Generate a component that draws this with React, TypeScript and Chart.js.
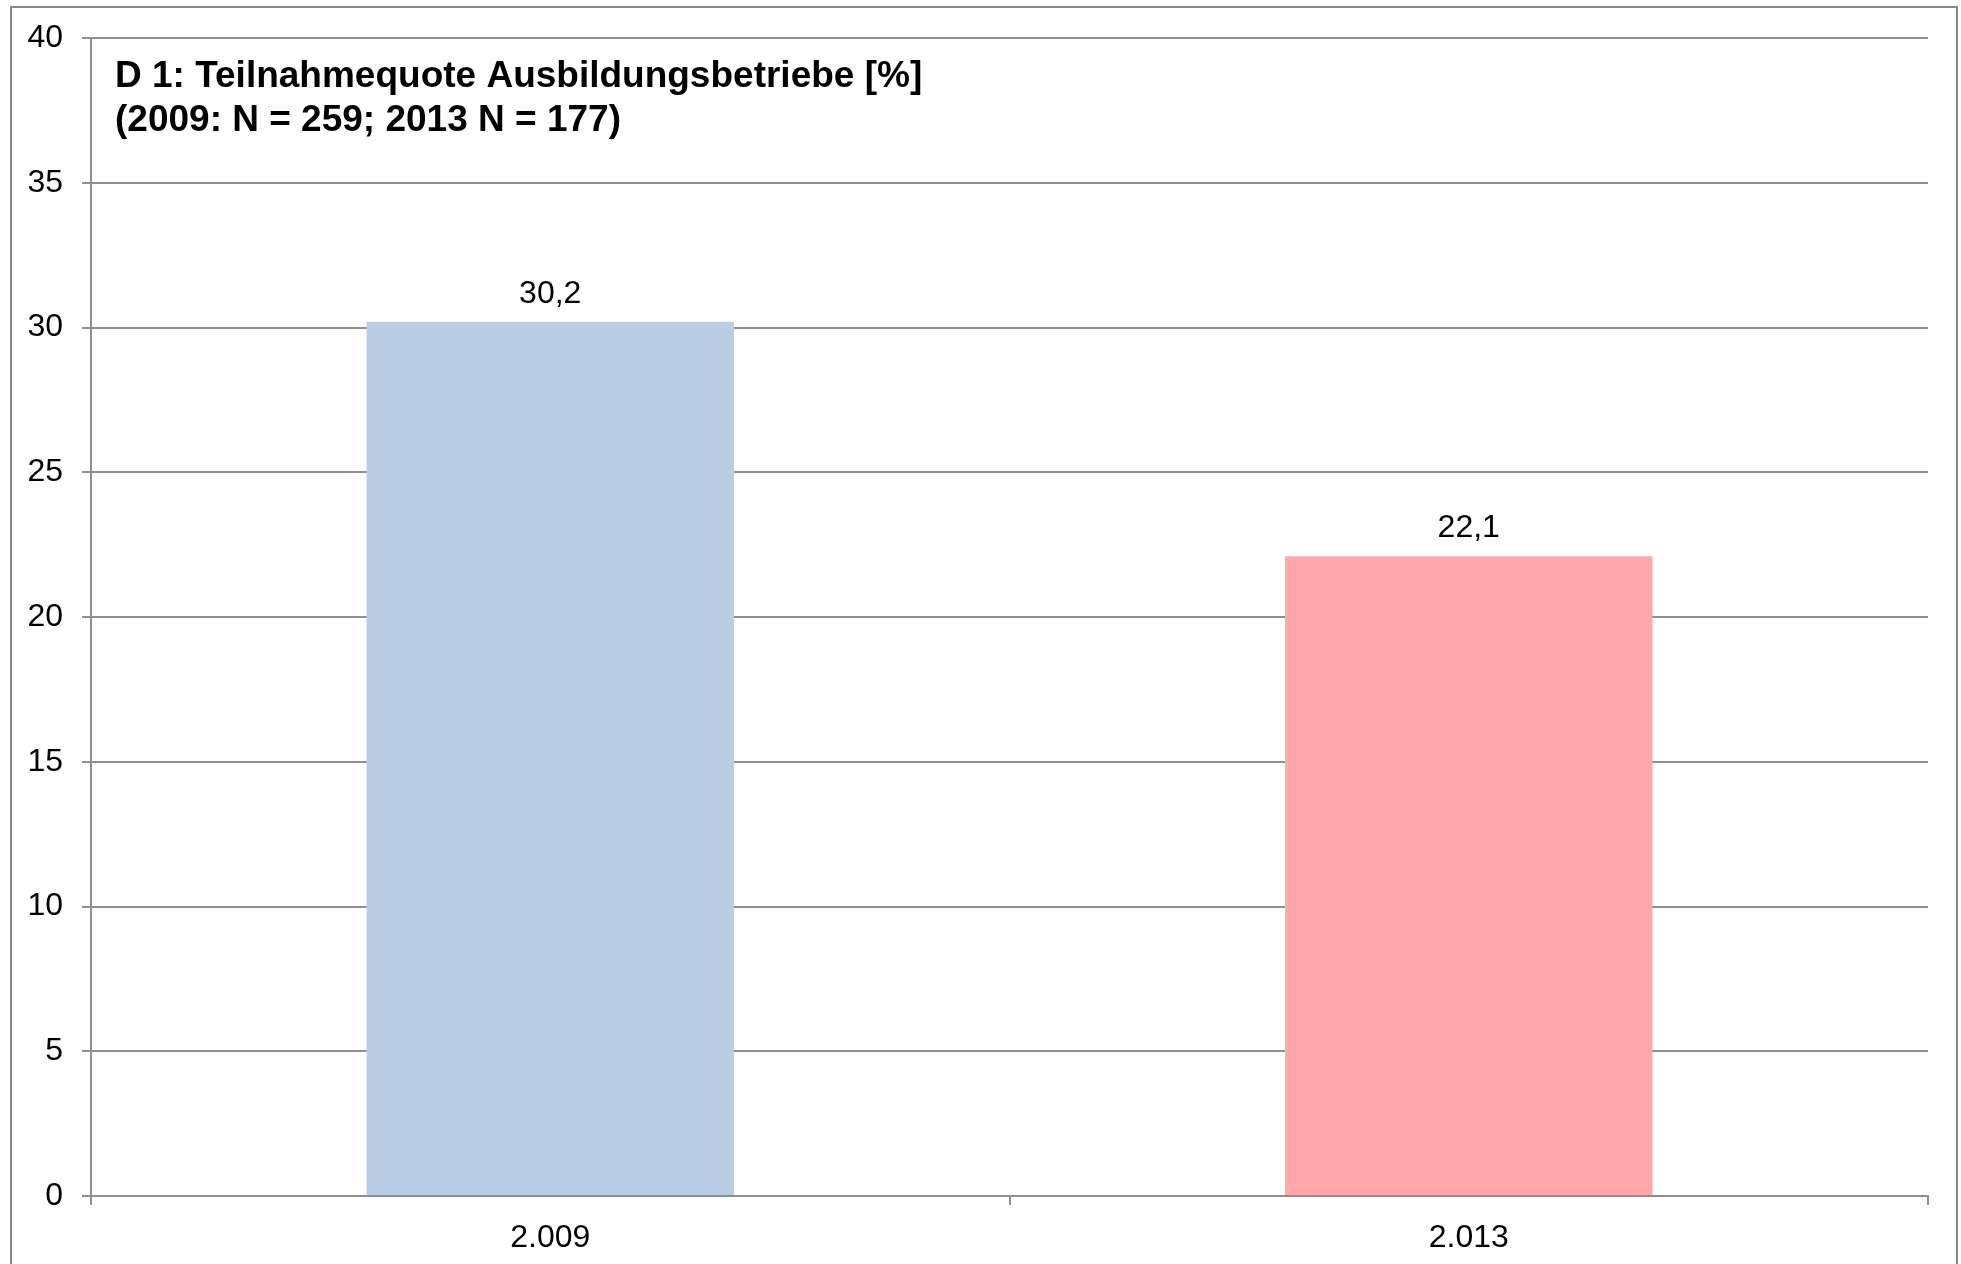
import { useEffect, useRef } from "react";
import { Chart, registerables } from "chart.js";

Chart.register(...registerables);

const categories = ["2.009", "2.013"];
const values = [30.2, 22.1];
const valueLabels = ["30,2", "22,1"];
const barColors = ["#B9CDE5", "#FFA7AA"];
const titleLines = [
  "D 1: Teilnahmequote Ausbildungsbetriebe [%]",
  "(2009: N = 259; 2013 N = 177)",
];
const yMin = 0;
const yMax = 40;
const yStep = 5;

const FONT = "'Liberation Sans', Arial, sans-serif";
const GRID = "#8f8f8f";

const framePlugin = {
  id: "frame",
  beforeDraw(chart: any) {
    const ctx = chart.ctx;
    ctx.save();
    ctx.fillStyle = "#ffffff";
    ctx.fillRect(0, 0, chart.width, chart.height);
    ctx.strokeStyle = "#898989";
    ctx.lineWidth = 2;
    ctx.strokeRect(11, 7, 1946, 1300);
    ctx.restore();
  },
};

const valueLabelPlugin = {
  id: "valueLabels",
  afterDatasetsDraw(chart: any) {
    const ctx = chart.ctx;
    const meta = chart.getDatasetMeta(0);
    ctx.save();
    ctx.fillStyle = "#000000";
    ctx.font = `32px ${FONT}`;
    ctx.textAlign = "center";
    ctx.textBaseline = "alphabetic";
    meta.data.forEach((bar: any, i: number) => {
      ctx.fillText(valueLabels[i], bar.x, bar.y - 19);
    });
    ctx.restore();
  },
};

const innerTitlePlugin = {
  id: "innerTitle",
  afterDraw(chart: any) {
    const ctx = chart.ctx;
    const area = chart.chartArea;
    ctx.save();
    ctx.fillStyle = "#000000";
    ctx.font = `bold 37px ${FONT}`;
    ctx.textAlign = "left";
    ctx.textBaseline = "alphabetic";
    titleLines.forEach((line, i) => {
      ctx.fillText(line, area.left + 24, area.top + 49 + i * 44);
    });
    ctx.restore();
  },
};

export default function App() {
  const ref = useRef<HTMLCanvasElement | null>(null);

  useEffect(() => {
    if (!ref.current) return;
    const chart = new Chart(ref.current, {
      type: "bar",
      data: {
        labels: categories,
        datasets: [
          {
            data: values,
            backgroundColor: barColors,
            borderWidth: 0,
            barPercentage: 0.4,
            categoryPercentage: 1,
          },
        ],
      },
      options: {
        responsive: false,
        animation: false,
        layout: { padding: { left: 0, right: 33, top: 38, bottom: 0 } },
        plugins: {
          legend: { display: false },
          tooltip: { enabled: false },
          title: { display: false },
        },
        scales: {
          x: {
            afterFit(scale: any) {
              scale.height = 68;
            },
            grid: {
              display: true,
              drawOnChartArea: false,
              offset: true,
              tickLength: 9,
              color: GRID,
              lineWidth: 2,
            },
            border: { display: true, color: GRID, width: 2 },
            ticks: {
              color: "#000000",
              font: { family: FONT, size: 32 },
              padding: 14,
            },
          },
          y: {
            min: yMin,
            max: yMax,
            afterFit(scale: any) {
              scale.width = 91;
            },
            grid: {
              color: GRID,
              lineWidth: 2,
              tickLength: 9,
              drawTicks: true,
            },
            border: { display: true, color: GRID, width: 2 },
            ticks: {
              stepSize: yStep,
              color: "#000000",
              font: { family: FONT, size: 32 },
              padding: 19,
            },
          },
        },
      },
      plugins: [framePlugin, valueLabelPlugin, innerTitlePlugin],
    });
    return () => chart.destroy();
  }, []);

  return (
    <div style={{ position: "fixed", left: 0, top: 0, width: 1961, height: 1264 }}>
      <canvas ref={ref} width={1961} height={1264} style={{ display: "block" }} />
    </div>
  );
}
